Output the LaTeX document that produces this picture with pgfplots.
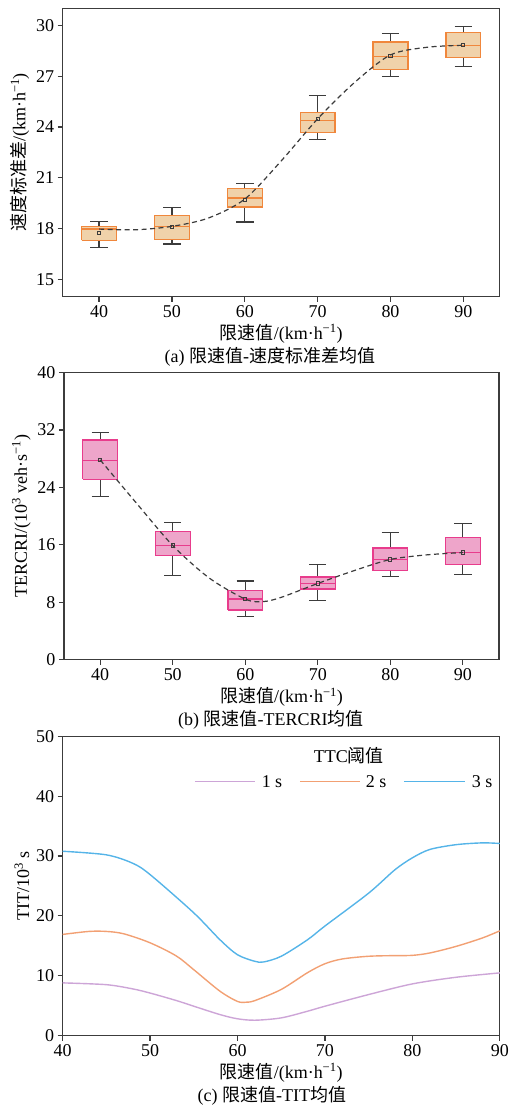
\documentclass[border=0pt]{standalone}
\usepackage{pgfplots}
\pgfplotsset{compat=1.18}
\usepackage{fontspec}
\setmainfont{Liberation Serif}
\newfontfamily\cjk{Noto Sans CJK SC}
\definecolor{axisgray}{RGB}{60,60,60}
\definecolor{orEdge}{RGB}{240,135,60}
\definecolor{orFill}{RGB}{240,210,170}
\definecolor{pkEdge}{RGB}{232,60,140}
\definecolor{pkFill}{RGB}{238,165,202}
\definecolor{cPurple}{RGB}{205,165,215}
\definecolor{cOrange}{RGB}{242,160,115}
\definecolor{cBlue}{RGB}{85,180,232}
\newcommand{\myfs}{\fontsize{18}{21}\selectfont}
\pgfplotsset{
  panel/.style={
    scale only axis, width=437.3pt,
    axis line style={axisgray, line width=1.3pt},
    tick style={axisgray, line width=1.2pt},
    tick align=outside, tick pos=left, major tick length=5pt,
    minor tick num=0,
    unbounded coords=jump,
    /pgf/number format/assume math mode=true,
    ticklabel style={font=\myfs},
    label style={font=\myfs},
    xlabel={{\cjk 限速值}/(km·h\textsuperscript{−1})},
  },
  whisk/.style={axisgray, line width=1.2pt},
  meanline/.style={axisgray, line width=1.2pt, dash pattern=on 5pt off 3.5pt, smooth},
  meanmark/.style={only marks, mark=square, mark size=1.6pt, mark options={draw=axisgray, line width=0.9pt, solid}},
}
\begin{document}
\begin{tikzpicture}
\path (0,0) rectangle (507pt,-1109pt);
% ---------------- (a)
\begin{axis}[panel, at={(62.7pt,-296.7pt)}, anchor=south west, height=288.4pt,
  xmin=35, xmax=95, ymin=14, ymax=31,
  xtick={40,50,...,90}, ytick={15,18,...,30},
  ylabel={{\cjk 速度标准差}/(km·h\textsuperscript{−1})}]
% whiskers and caps
\addplot[whisk] coordinates {
(40,18.14)(40,18.44)(40,nan)(38.8,18.44)(41.2,18.44)(40,nan)(40,17.32)(40,16.87)(40,nan)(38.8,16.87)(41.2,16.87)(40,nan)
(50,18.77)(50,19.24)(50,nan)(48.8,19.24)(51.2,19.24)(50,nan)(50,17.36)(50,17.10)(50,nan)(48.8,17.10)(51.2,17.10)(50,nan)
(60,20.38)(60,20.65)(60,nan)(58.8,20.65)(61.2,20.65)(60,nan)(60,19.28)(60,18.40)(60,nan)(58.8,18.40)(61.2,18.40)(60,nan)
(70,24.86)(70,25.84)(70,nan)(68.8,25.84)(71.2,25.84)(70,nan)(70,23.68)(70,23.27)(70,nan)(68.8,23.27)(71.2,23.27)(70,nan)
(80,29.02)(80,29.51)(80,nan)(78.8,29.51)(81.2,29.51)(80,nan)(80,27.41)(80,27.00)(80,nan)(78.8,27.00)(81.2,27.00)(80,nan)
(90,29.57)(90,29.92)(90,nan)(88.8,29.92)(91.2,29.92)(90,nan)(90,28.08)(90,27.55)(90,nan)(88.8,27.55)(91.2,27.55)};
% boxes (lower quartile -- upper quartile)
\addplot[draw=orEdge, fill=orFill, line width=1.3pt, line join=miter] coordinates {
(37.6,17.32)(42.4,17.32)(42.4,18.14)(37.6,18.14)(37.6,17.32)(40,nan)
(47.6,17.36)(52.4,17.36)(52.4,18.77)(47.6,18.77)(47.6,17.36)(50,nan)
(57.6,19.28)(62.4,19.28)(62.4,20.38)(57.6,20.38)(57.6,19.28)(60,nan)
(67.6,23.68)(72.4,23.68)(72.4,24.86)(67.6,24.86)(67.6,23.68)(70,nan)
(77.6,27.41)(82.4,27.41)(82.4,29.02)(77.6,29.02)(77.6,27.41)(80,nan)
(87.6,28.08)(92.4,28.08)(92.4,29.57)(87.6,29.57)(87.6,28.08)};
% medians
\addplot[orEdge, line width=1.3pt] coordinates {
(37.6,17.98)(42.4,17.98)(40,nan)(47.6,18.14)(52.4,18.14)(50,nan)(57.6,19.81)(62.4,19.81)(60,nan)
(67.6,24.40)(72.4,24.40)(70,nan)(77.6,28.15)(82.4,28.15)(80,nan)(87.6,28.80)(92.4,28.80)};
\addplot[meanline] coordinates {(40,17.98) (45,17.94) (50,18.14) (55,18.63) (60,19.75) (65,22.0) (70,24.48) (75,26.6) (80,28.25) (85,28.7) (90,28.82)};
\addplot[meanmark] coordinates {(40,17.77) (50,18.10) (60,19.69) (70,24.48) (80,28.17) (90,28.82)};
\end{axis}
\node[font=\myfs] at (270pt,-356.7pt) {(a) {\cjk 限速值}-{\cjk 速度标准差均值}};
% ---------------- (b)
\begin{axis}[panel, at={(64pt,-660pt)}, anchor=south west, height=287.3pt, width=435.3pt,
  xmin=35, xmax=95, ymin=0, ymax=40,
  xtick={40,50,...,90}, ytick={0,8,...,40},
  ylabel={TERCRI/(10\textsuperscript{3} veh·s\textsuperscript{−1})}]
\addplot[whisk] coordinates {
(40,30.61)(40,31.68)(40,nan)(38.8,31.68)(41.2,31.68)(40,nan)(40,25.14)(40,22.68)(40,nan)(38.8,22.68)(41.2,22.68)(40,nan)
(50,17.81)(50,19.06)(50,nan)(48.8,19.06)(51.2,19.06)(50,nan)(50,14.56)(50,11.73)(50,nan)(48.8,11.73)(51.2,11.73)(50,nan)
(60,9.65)(60,10.95)(60,nan)(58.8,10.95)(61.2,10.95)(60,nan)(60,6.91)(60,6.03)(60,nan)(58.8,6.03)(61.2,6.03)(60,nan)
(70,11.50)(70,13.26)(70,nan)(68.8,13.26)(71.2,13.26)(70,nan)(70,9.83)(70,8.30)(70,nan)(68.8,8.30)(71.2,8.30)(70,nan)
(80,15.54)(80,17.72)(80,nan)(78.8,17.72)(81.2,17.72)(80,nan)(80,12.38)(80,11.55)(80,nan)(78.8,11.55)(81.2,11.55)(80,nan)
(90,17.02)(90,18.97)(90,nan)(88.8,18.97)(91.2,18.97)(90,nan)(90,13.22)(90,11.83)(90,nan)(88.8,11.83)(91.2,11.83)};
\addplot[draw=pkEdge, fill=pkFill, line width=1.3pt, line join=miter] coordinates {
(37.6,25.14)(42.4,25.14)(42.4,30.61)(37.6,30.61)(37.6,25.14)(40,nan)
(47.6,14.56)(52.4,14.56)(52.4,17.81)(47.6,17.81)(47.6,14.56)(50,nan)
(57.6,6.91)(62.4,6.91)(62.4,9.65)(57.6,9.65)(57.6,6.91)(60,nan)
(67.6,9.83)(72.4,9.83)(72.4,11.50)(67.6,11.50)(67.6,9.83)(70,nan)
(77.6,12.38)(82.4,12.38)(82.4,15.54)(77.6,15.54)(77.6,12.38)(80,nan)
(87.6,13.22)(92.4,13.22)(92.4,17.02)(87.6,17.02)(87.6,13.22)};
\addplot[pkEdge, line width=1.3pt] coordinates {
(37.6,27.73)(42.4,27.73)(40,nan)(47.6,15.91)(52.4,15.91)(50,nan)(57.6,8.44)(62.4,8.44)(60,nan)
(67.6,10.62)(72.4,10.62)(70,nan)(77.6,13.96)(82.4,13.96)(80,nan)(87.6,14.93)(92.4,14.93)};
\addplot[meanline] coordinates {(40,27.83) (45,21.8) (50,15.91) (55,11.4) (60,8.44) (62.5,8.1) (65,8.7) (70,10.62) (75,12.4) (80,13.96) (85,14.6) (90,14.93)};
\addplot[meanmark] coordinates {(40,27.83) (50,15.91) (60,8.44) (70,10.62) (80,13.96) (90,14.93)};
\end{axis}
\node[font=\myfs] at (271pt,-720pt) {(b) {\cjk 限速值}-TERCRI{\cjk 均值}};
% ---------------- (c)
\begin{axis}[panel, at={(62.7pt,-1036pt)}, anchor=south west, height=299.3pt,
  xmin=40, xmax=90, ymin=0, ymax=50,
  xtick={40,50,...,90}, ytick={0,10,...,50},
  ylabel={TIT/10\textsuperscript{3} s}]
\addplot[draw=cPurple, line width=1.4pt, smooth] coordinates {(40,8.8) (45,8.5) (48,7.8) (50,7.1) (53,5.85) (55,4.9) (58,3.5) (60,2.8) (62,2.56) (65,2.95) (68,4.06) (70,4.9) (75,6.85) (80,8.63) (85,9.74) (90,10.47)};
\addplot[draw=cOrange, line width=1.4pt, smooth] coordinates {(40,16.9) (43,17.4) (45,17.4) (47,17.0) (50,15.5) (53,13.3) (55,11.0) (58,7.4) (60,5.7) (61,5.57) (62,5.85) (65,7.7) (68,10.5) (70,12.0) (72,12.8) (75,13.25) (78,13.36) (80,13.4) (82,13.8) (85,14.9) (88,16.3) (90,17.5)};
\addplot[draw=cBlue, line width=1.4pt, smooth] coordinates {(40,30.8) (45,30.2) (48,28.8) (50,26.9) (55,20.5) (58,16.0) (60,13.5) (62,12.4) (63,12.3) (65,13.25) (68,16.0) (70,18.3) (75,23.8) (78,27.7) (80,29.7) (82,31.1) (85,31.9) (88,32.2) (90,32.1)};
% legend keys (TTC threshold)
\addplot[draw=cPurple, line width=1.4pt, forget plot] coordinates {(55.12,42.5) (61.99,42.5)};
\addplot[draw=cOrange, line width=1.4pt, forget plot] coordinates {(67.13,42.5) (73.99,42.5)};
\addplot[draw=cBlue, line width=1.4pt, forget plot] coordinates {(79.03,42.5) (85.99,42.5)};
\node[font=\myfs] at (rel axis cs:0.655,0.937) {TTC{\cjk 阈值}};
\node[font=\myfs, anchor=west, inner sep=0pt] at (rel axis cs:0.455,0.85) {1 s};
\node[font=\myfs, anchor=west, inner sep=0pt] at (rel axis cs:0.6935,0.85) {2 s};
\node[font=\myfs, anchor=west, inner sep=0pt] at (rel axis cs:0.9357,0.85) {3 s};
\end{axis}
\node[font=\myfs] at (272pt,-1096.7pt) {(c) {\cjk 限速值}-TIT{\cjk 均值}};
\end{tikzpicture}
\end{document}
